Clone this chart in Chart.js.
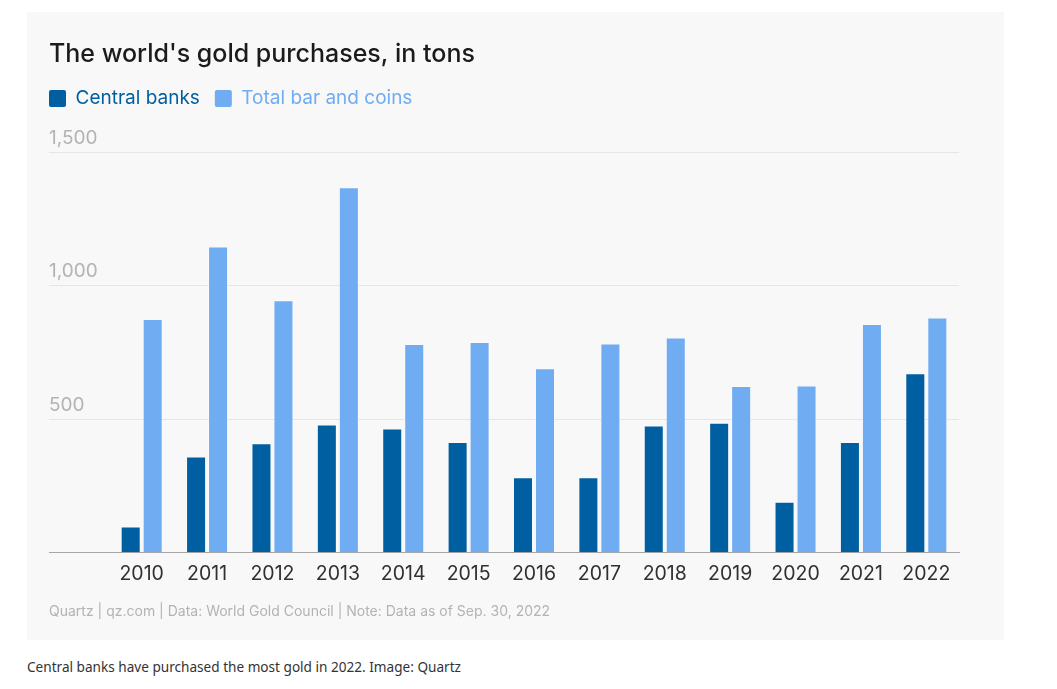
<!DOCTYPE html>
<html>
<head>
<meta charset="utf-8">
<title>The world's gold purchases, in tons</title>
<script src="https://cdn.jsdelivr.net/npm/chart.js@4.4.0/dist/chart.umd.min.js"></script>
<style>
  html, body { margin: 0; padding: 0; background: #ffffff; }
  #panel {
    position: absolute; left: 27px; top: 12px;
    width: 977px; height: 628px;
    background: #f8f8f8;
  }
  #caption {
    position: absolute; left: 27px; top: 657px;
    font-family: "Noto Sans", sans-serif; font-size: 13.6px;
    color: #333333; line-height: 20px;
  }
</style>
</head>
<body>
<div id="panel"><canvas id="goldChart" width="977" height="628"></canvas></div>
<div id="caption">Central banks have purchased the most gold in 2022. Image: Quartz</div>

<script>
// data (tons)
const years = ['2010', '2011', '2012', '2013', '2014', '2015', '2016',
               '2017', '2018', '2019', '2020', '2021', '2022'];
const centralBanks = [98, 360, 410, 480, 465, 415, 283, 283, 476, 487, 191, 415, 672];
const barAndCoins = [875, 1146, 945, 1368, 781, 789, 691, 783, 806, 624, 626, 856, 881];
const yTicks = [0, 500, 1000, 1500];

const DARK = '#005fa0';
const LIGHT = '#70acf2';
const FONT = 'Inter, "Noto Sans", sans-serif';
const LEGEND_PAD = 15;

const canvas = document.getElementById('goldChart');
const ctx = canvas.getContext('2d');

// legend items start at left + padding; pull the legend back to the title's edge
const legendShift = {
    id: 'legendShift',
    afterLayout(chart) {
        if (chart.legend) {
            chart.legend.left -= LEGEND_PAD;
            chart.legend.right -= LEGEND_PAD;
        }
    }
};

new Chart(ctx, {
    type: 'bar',
    data: {
        labels: years,
        datasets: [{
            label: 'Central banks',
            data: centralBanks,
            backgroundColor: DARK,
            borderColor: 'rgba(255,255,255,0.35)',
            borderWidth: 1,
            categoryPercentage: 0.673,
            barPercentage: 0.91
        }, {
            label: 'Total bar and coins',
            data: barAndCoins,
            backgroundColor: LIGHT,
            borderColor: 'rgba(255,255,255,0.35)',
            borderWidth: 1,
            categoryPercentage: 0.673,
            barPercentage: 0.91
        }]
    },
    plugins: [legendShift],
    options: {
        responsive: false,
        animation: false,
        layout: { padding: { left: 22, right: 45, top: 0, bottom: 0 } },
        plugins: {
            title: {
                display: true,
                text: "The world's gold purchases, in tons",
                align: 'start',
                color: '#1b1b1b',
                font: { family: FONT, size: 25, weight: 500 },
                padding: { top: 27, bottom: 5 }
            },
            legend: {
                display: true,
                position: 'top',
                align: 'start',
                labels: {
                    boxWidth: 17,
                    boxHeight: 17,
                    useBorderRadius: true,
                    borderRadius: 2,
                    padding: LEGEND_PAD,
                    font: { family: FONT, size: 19 },
                    generateLabels: (chart) => {
                        const items = Chart.defaults.plugins.legend.labels.generateLabels(chart);
                        items.forEach(item => {
                            const ds = chart.data.datasets[item.datasetIndex];
                            item.fontColor = ds.backgroundColor;
                            item.lineWidth = 0;
                            item.strokeStyle = ds.backgroundColor;
                        });
                        return items;
                    }
                }
            },
            subtitle: {
                display: true,
                position: 'bottom',
                align: 'start',
                text: 'Quartz | qz.com | Data: World Gold Council | Note: Data as of Sep. 30, 2022',
                color: '#b3b3b3',
                font: { family: FONT, size: 14 },
                padding: { top: 7, bottom: 20 }
            },
            tooltip: { enabled: false }
        },
        scales: {
            x: {
                grid: { display: false, drawTicks: false },
                border: { display: true, color: '#a6a6a6', width: 1 },
                ticks: {
                    color: '#303030',
                    font: { family: FONT, size: 19.5 },
                    padding: 10,
                    autoSkip: false,
                    maxRotation: 0
                }
            },
            // empty axis that only keeps space between legend and plot
            spacer: {
                position: 'top',
                display: true,
                grid: { display: false, drawTicks: false },
                border: { display: false },
                ticks: { display: false },
                afterFit: (scale) => { scale.height = 34; }
            },
            y: {
                min: 0,
                max: 1500,
                border: { display: false },
                grid: {
                    color: (c) => c.tick && c.tick.value === 0 ? '#a6a6a6' : '#e6e6e6',
                    tickColor: (c) => c.tick && c.tick.value === 0 ? '#a6a6a6' : '#e6e6e6',
                    drawTicks: true,
                    tickLength: 60,
                    lineWidth: 1
                },
                afterFit: (scale) => { scale.width = 60; },
                afterBuildTicks: (scale) => {
                    scale.ticks = yTicks.map(v => ({ value: v }));
                },
                ticks: {
                    crossAlign: 'far',
                    labelOffset: -14,
                    color: '#b3b3b3',
                    font: { family: FONT, size: 19 },
                    callback: (v) => v === 0 ? '' : v.toLocaleString('en-US')
                }
            }
        }
    }
});
</script>
</body>
</html>
